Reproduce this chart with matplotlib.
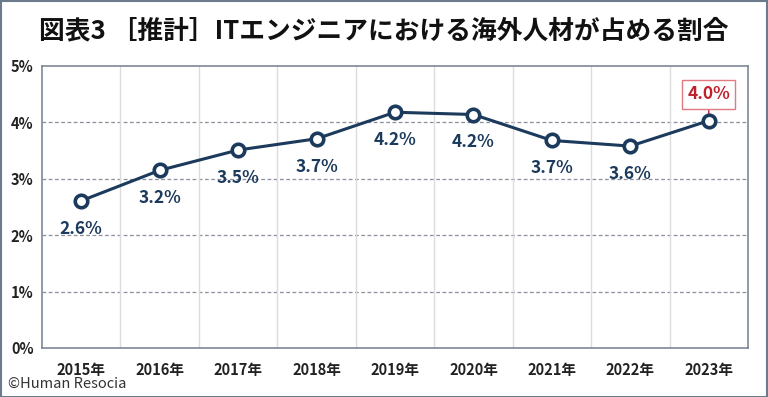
import matplotlib
matplotlib.use("Agg")
import matplotlib.pyplot as plt
from matplotlib.patches import Rectangle
import numpy as np

plt.rcParams['font.family'] = ['Noto Sans CJK JP', 'DejaVu Sans']

years = ["2015年", "2016年", "2017年", "2018年", "2019年", "2020年", "2021年", "2022年", "2023年"]
values = [2.61, 3.15, 3.51, 3.71, 4.18, 4.14, 3.68, 3.58, 4.03]
labels = ["2.6%", "3.2%", "3.5%", "3.7%", "4.2%", "4.2%", "3.7%", "3.6%", "4.0%"]
yticks = [0, 1, 2, 3, 4, 5]

navy = "#1b3a5c"
red = "#c0202a"

fig = plt.figure(figsize=(7.68, 3.97), dpi=100)
W, H = 768, 397
ax = fig.add_axes([42 / W, 1 - 348 / H, (748 - 42) / W, (348 - 66) / H])

x = np.arange(len(years))
ax.plot(x, values, color=navy, lw=2.2, marker='o', ms=9, mfc='white', mec=navy, mew=2.6, zorder=5, clip_on=False)

ax.set_xlim(-0.5, len(years) - 0.5)
ax.set_ylim(0, 5)
ax.set_yticks(yticks)
ax.set_yticklabels([f"{t}%" for t in yticks], fontsize=10.5, fontweight='bold', color='#222222')
ax.set_xticks(x)
ax.set_xticklabels(years, fontsize=10.5, fontweight='bold', color='#222222')
ax.tick_params(axis='both', length=0)
ax.tick_params(axis='x', pad=10)
ax.tick_params(axis='y', pad=6)

for yv in yticks[1:-1]:
    ax.axhline(yv, color='#8a8f99', lw=0.9, ls=(0, (3, 2)), zorder=1)
for b in np.arange(0.5, len(years) - 0.5, 1):
    ax.axvline(b, color='#dcdcdc', lw=1.0, zorder=1)

for s in ax.spines.values():
    s.set_color('#7d8796')
    s.set_linewidth(1.2)

for i, (v, lab) in enumerate(zip(values, labels)):
    if i == len(values) - 1:
        ax.annotate(lab, (i, v), xytext=(0, 19), textcoords='offset points', ha='center', va='center',
                    fontsize=12.5, fontweight='bold', color=red,
                    bbox=dict(boxstyle='square,pad=0.3', fc='white', ec='#e07a80', lw=1.0),
                    arrowprops=dict(arrowstyle='-', color=red, lw=1.0, shrinkA=0, shrinkB=5))
    else:
        ax.annotate(lab, (i, v), xytext=(0, -20), textcoords='offset points', ha='center', va='center',
                    fontsize=12.5, fontweight='bold', color=navy)

fig.text(0.5, 1 - 31 / H, "図表3 ［推計］ITエンジニアにおける海外人材が占める割合", ha='center', va='center',
         fontsize=18.5, fontweight='bold', color='#111111')
fig.text(8 / W, 1 - 384 / H, "©Human Resocia", ha='left', va='center', fontsize=10.5, color='#333333')

fig.patches.append(Rectangle((0.5 / W, 0.5 / H), 1 - 1.5 / W, 1 - 1.5 / H, transform=fig.transFigure,
                             fill=False, ec='#6b7a8c', lw=1.5))

fig.savefig("out.png", dpi=100)
